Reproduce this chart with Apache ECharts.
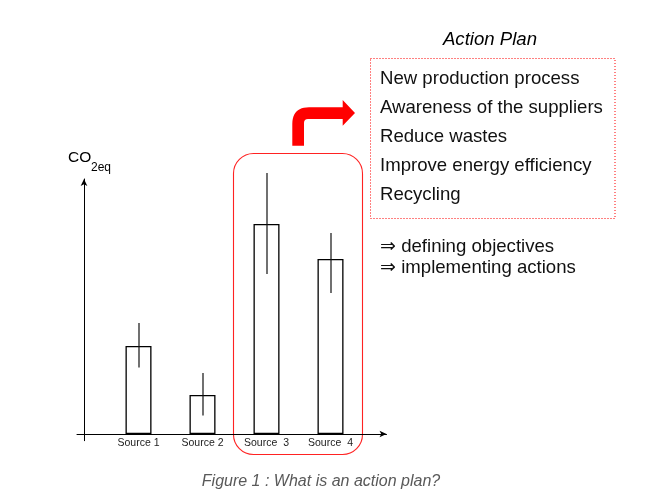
<!DOCTYPE html>
<html>
<head>
<meta charset="utf-8">
<script src="https://cdn.jsdelivr.net/npm/echarts@6/dist/echarts.min.js"></script>
<style>
    html, body {margin: 0; padding: 0; background: #fff;}
    #main {width: 663px; height: 502px;}
</style>
</head>
<body>
<div id="main"></div>
<script>
// data (pixel-like units)
var sources = ['Source 1', 'Source 2', 'Source  3', 'Source  4'];
var sourcePos = [54.5, 118.5, 182.5, 246.5];
var emissions = [88, 39, 210, 175];
var errLow = [66.5, 18.5, 160, 141];
var errHigh = [111, 61, 261, 201];
var actionItems = ['New production process', 'Awareness of the suppliers', 'Reduce wastes',
    'Improve energy efficiency', 'Recycling'];
var outcomes = ['\u21d2 defining objectives', '\u21d2 implementing actions'];

// quadratic curve points for the bent arrow outline
function quad(p0, p1, p2, n) {
    var pts = [];
    for (var k = 0; k <= n; k++) {
        var t = k / n, u = 1 - t;
        pts.push([u * u * p0[0] + 2 * u * t * p1[0] + t * t * p2[0],
            u * u * p0[1] + 2 * u * t * p1[1] + t * t * p2[1]]);
    }
    return pts;
}

~function () {
    var myChart = echarts.init(document.getElementById('main'));
    var font = '"Liberation Sans", Arial, sans-serif';

    var barData = sourcePos.map(function (x, i) {
        return [x, emissions[i]];
    });
    var errData = sourcePos.map(function (x, i) {
        return [x, errLow[i], errHigh[i]];
    });

    var arrowPts = [[292.3, 145.7]]
        .concat(quad([292.3, 124], [292.3, 107.3], [309, 107.3], 12))
        .concat([[342.7, 107.3], [342.7, 100], [355, 113], [342.7, 125.7], [342.7, 119]])
        .concat(quad([308, 119], [304, 119], [304, 123], 4))
        .concat([[304, 145.7]]);

    var graphics = [
        {type: 'text', style: {text: 'CO', x: 68, y: 158, verticalAlign: 'middle', font: '15.5px ' + font, fill: '#000'}},
        {type: 'text', style: {text: '2eq', x: 91, y: 168, verticalAlign: 'middle', font: '12px ' + font, fill: '#000'}},
        {type: 'text', style: {text: 'Action Plan', x: 490, y: 40, align: 'center', verticalAlign: 'middle',
            font: 'italic 18.6px ' + font, fill: '#000'}},
        {type: 'rect', shape: {x: 370.5, y: 58.5, width: 244.5, height: 160},
            style: {fill: 'none', stroke: '#f00', lineWidth: 1, lineDash: [1, 2]}},
        {type: 'rect', shape: {x: 233.5, y: 153.5, width: 129, height: 301, r: 20},
            style: {fill: 'none', stroke: '#f22', lineWidth: 1.1}},
        {type: 'polygon', shape: {points: arrowPts}, style: {fill: '#f00'}},
        {type: 'text', style: {text: 'Figure 1 : What is an action plan?', x: 321, y: 482, align: 'center',
            verticalAlign: 'middle', font: 'italic 16px ' + font, fill: '#595959'}}
    ];
    actionItems.forEach(function (t, i) {
        graphics.push({type: 'text', style: {text: t, x: 380, y: 79.3 + i * 29, verticalAlign: 'middle',
            font: '18.6px ' + font, fill: '#111'}});
    });
    outcomes.forEach(function (t, i) {
        graphics.push({type: 'text', style: {text: t, x: 380, y: 246.7 + i * 21.6, verticalAlign: 'middle',
            font: '18.6px ' + font, fill: '#111'}});
    });

    var option = {
        animation: false,
        grid: {left: 77, right: 276.5, top: 179, bottom: 61.3, containLabel: false},
        xAxis: {
            type: 'value',
            min: -7,
            max: 302.5,
            splitLine: {show: false},
            axisTick: {show: false},
            axisLine: {
                onZero: true,
                symbol: ['none', 'arrow'],
                symbolSize: [5, 7],
                lineStyle: {color: '#000', width: 1}
            },
            axisLabel: {
                customValues: sourcePos,
                margin: -3,
                fontSize: 10.5,
                fontFamily: font,
                color: '#222',
                formatter: function (v) {
                    var i = sourcePos.indexOf(v);
                    return i >= 0 ? sources[i] : '';
                }
            }
        },
        yAxis: {
            type: 'value',
            min: -6.7,
            max: 255,
            splitLine: {show: false},
            axisTick: {show: false},
            axisLabel: {show: false},
            axisLine: {
                show: true,
                onZero: true,
                symbol: ['none', 'arrow'],
                symbolSize: [5, 7],
                lineStyle: {color: '#000', width: 1}
            }
        },
        series: [
            {
                name: 'CO2eq',
                type: 'bar',
                barWidth: 26,
                data: barData,
                itemStyle: {color: '#fff', borderColor: '#000', borderWidth: 1.3}
            },
            {
                name: 'range',
                type: 'custom',
                clip: false,
                data: errData,
                renderItem: function (params, api) {
                    var lo = api.coord([api.value(0), api.value(1)]);
                    var hi = api.coord([api.value(0), api.value(2)]);
                    return {
                        type: 'line',
                        shape: {x1: lo[0] + 0.5, y1: lo[1], x2: hi[0] + 0.5, y2: hi[1]},
                        style: {stroke: '#111', lineWidth: 1.2}
                    };
                },
                z: 3
            }
        ],
        graphic: graphics
    };
    myChart.setOption(option);
}();
</script>
</body>
</html>
